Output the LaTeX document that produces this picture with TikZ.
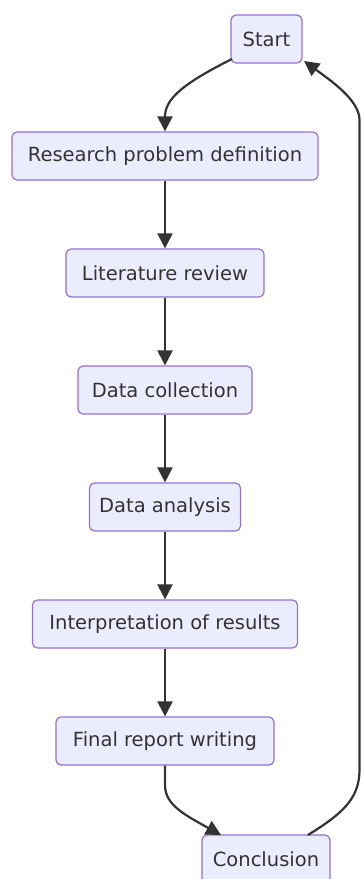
\documentclass[tikz,border=0pt]{standalone}
\usepackage{fontspec}
\setmainfont{DejaVu Sans}
\usetikzlibrary{arrows.meta}
\definecolor{boxfill}{HTML}{ECECFF}
\definecolor{boxline}{HTML}{9370DB}
\definecolor{ink}{HTML}{333333}
\tikzset{
  stepbox/.style={draw=boxline, fill=boxfill, line width=1.2pt, rounded corners=5pt,
    minimum height=48pt, inner sep=0pt, text=ink, font=\fontsize{19.5}{22}\selectfont},
  flow/.style={draw=ink, line width=2.2pt, -{Triangle[length=15pt,width=15pt]}},
}
\begin{document}
\begin{tikzpicture}[x=1pt,y=-1pt]
\useasboundingbox (0,0) rectangle (361,879);
\begin{scope}
\clip (0,0) rectangle (361,879);
\node[stepbox, minimum width=71pt] (start) at (266.5,39) {Start};
\node[stepbox, minimum width=306pt] (rpd) at (165,156) {Research problem definition};
\node[stepbox, minimum width=198pt] (lit) at (165,273) {Literature review};
\node[stepbox, minimum width=174pt] (dc) at (165,390) {Data collection};
\node[stepbox, minimum width=151pt] (da) at (165,507) {Data analysis};
\node[stepbox, minimum width=265pt] (ior) at (165,624) {Interpretation of results};
\node[stepbox, minimum width=218pt] (frw) at (165,741) {Final report writing};
\node[stepbox, minimum width=128pt] (con) at (266,859) {Conclusion};
\end{scope}
\coordinate (s1) at (232,59);
\coordinate (c1) at (308,835);
\coordinate (s2) at (304,61);
\coordinate (f1) at (221,835);
\draw[flow] (s1) .. controls (180,85) and (165,100) .. (rpd.north);
\draw[flow] (rpd) -- (lit);
\draw[flow] (lit) -- (dc);
\draw[flow] (dc) -- (da);
\draw[flow] (da) -- (ior);
\draw[flow] (ior) -- (frw);
\draw[flow] (frw.south) -- (165,785) .. controls (165,805) and (185,815) .. (f1);
\draw[flow] (c1) .. controls (340,815) and (359.5,800) .. (359.5,770) -- (359.5,120) .. controls (359.5,100) and (330,80) .. (s2);
\end{tikzpicture}
\end{document}
